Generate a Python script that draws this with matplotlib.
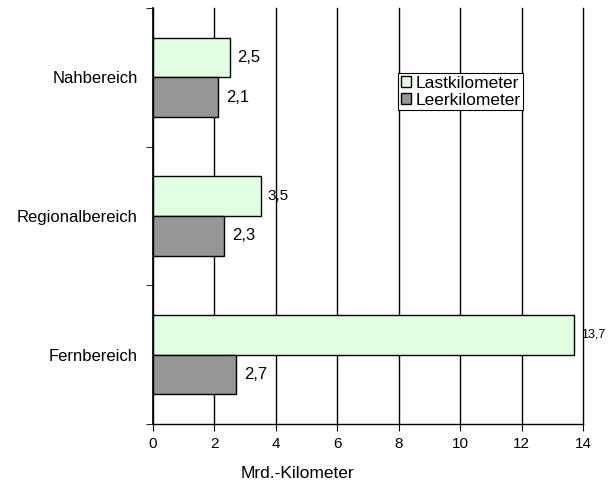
import matplotlib
matplotlib.use("Agg")
import matplotlib.pyplot as plt
import numpy as np

categories = ["Nahbereich", "Regionalbereich", "Fernbereich"]
last_km = [2.5, 3.5, 13.7]
leer_km = [2.1, 2.3, 2.7]
last_labels = ["2,5", "3,5", "13,7"]
leer_labels = ["2,1", "2,3", "2,7"]
label_sizes_last = [12, 11, 9]

plt.rcParams["font.family"] = ["Liberation Sans", "DejaVu Sans"]

fig = plt.figure(figsize=(6.13, 4.84), dpi=100)
ax = fig.add_axes([153 / 613, 1 - 424 / 484, 430 / 613, 416 / 484])

y = np.arange(len(categories))
h = 0.285
ax.barh(y - h / 2, last_km, height=h, color="#E0FFE0", edgecolor="black", linewidth=1, zorder=3, label="Lastkilometer")
ax.barh(y + h / 2, leer_km, height=h, color="#969696", edgecolor="black", linewidth=1, zorder=3, label="Leerkilometer")

for i in range(len(categories)):
    ax.text(last_km[i] + 0.24, y[i] - h / 2, last_labels[i], va="center", ha="left", fontsize=label_sizes_last[i])
    ax.text(leer_km[i] + 0.28, y[i] + h / 2, leer_labels[i], va="center", ha="left", fontsize=12)

ax.set_xlim(0, 14)
ax.set_ylim(2.5, -0.5)
ax.set_xticks(np.arange(0, 15, 2))
ax.set_xticklabels([str(v) for v in range(0, 15, 2)], fontsize=11)
ax.set_yticks(y)
ax.set_yticklabels(categories, fontsize=12)
ax.tick_params(axis="y", length=0, pad=11)
ax.set_yticks([-0.5, 0.5, 1.5, 2.5], minor=True)
ax.tick_params(axis="y", which="minor", length=5, direction="out")
ax.tick_params(axis="x", length=5, direction="out", pad=4)
ax.grid(axis="x", color="black", linewidth=1, zorder=0)
for line in ax.get_xgridlines():
    line.set_clip_on(False)
for s in ["top", "right"]:
    ax.spines[s].set_visible(False)
ax.spines["left"].set_linewidth(1.2)
ax.spines["bottom"].set_linewidth(1)

leg = ax.legend(loc="upper left", bbox_to_anchor=(245 / 430, 1 - 65 / 416), fontsize=12.5,
                frameon=True, fancybox=False, edgecolor="black", framealpha=1,
                handlelength=0.6, handleheight=0.6, handletextpad=0.25, borderpad=0.15,
                labelspacing=0.12, borderaxespad=0)
leg.get_frame().set_linewidth(0.8)

fig.text(297 / 613, 1 - 473 / 484, "Mrd.-Kilometer", ha="center", va="center", fontsize=12.5)

fig.savefig("out.png", dpi=100)
